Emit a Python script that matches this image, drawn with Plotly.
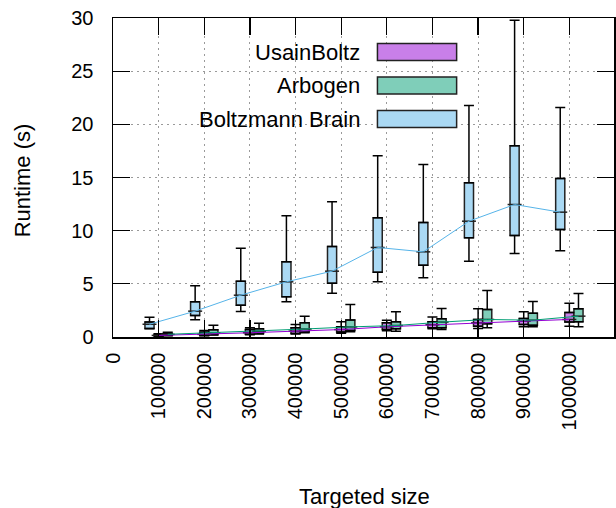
import plotly.graph_objects as go

# ---------------- data ----------------
sizes = [100000, 200000, 300000, 400000, 500000, 600000, 700000, 800000, 900000, 1000000]
size_labels = ["0"] + [str(s) for s in sizes]

usain_min = [0.08, 0.12, 0.20, 0.28, 0.35, 0.58, 0.77, 0.80, 0.96, 1.00]
usain_q1 = [0.10, 0.15, 0.27, 0.33, 0.46, 0.71, 0.87, 1.02, 1.18, 1.40]
usain_med = [0.15, 0.25, 0.40, 0.55, 0.70, 0.96, 1.15, 1.33, 1.49, 1.65]
usain_q3 = [0.25, 0.45, 0.71, 0.86, 0.96, 1.33, 1.43, 1.65, 1.74, 2.30]
usain_max = [0.30, 0.62, 0.86, 1.18, 1.43, 1.58, 1.87, 2.65, 2.37, 3.18]

arbo_min = [0.12, 0.18, 0.28, 0.40, 0.50, 0.55, 0.71, 0.87, 0.96, 0.96]
arbo_q1 = [0.15, 0.20, 0.33, 0.46, 0.60, 0.77, 0.87, 1.24, 1.11, 1.43]
arbo_med = [0.25, 0.40, 0.55, 0.75, 0.95, 1.08, 1.40, 1.65, 1.58, 1.96]
arbo_q3 = [0.33, 0.68, 0.77, 1.33, 1.60, 1.43, 1.71, 2.59, 2.24, 2.65]
arbo_max = [0.45, 1.10, 1.30, 1.96, 3.05, 2.37, 2.68, 4.38, 3.33, 4.09]

bb_min = [0.78, 1.62, 2.40, 3.31, 4.12, 5.19, 5.57, 7.13, 7.85, 8.11]
bb_q1 = [0.80, 2.02, 2.99, 3.78, 5.06, 6.09, 6.75, 9.33, 9.55, 10.11]
bb_med = [1.20, 2.43, 3.93, 5.19, 6.19, 8.42, 8.01, 10.89, 12.46, 11.74]
bb_q3 = [1.41, 3.31, 5.25, 7.07, 8.51, 11.21, 10.77, 14.50, 17.98, 14.91]
bb_max = [1.86, 4.81, 8.35, 11.40, 12.71, 17.04, 16.22, 21.77, 29.80, 21.58]

series_names = ["UsainBoltz", "Arbogen", "Boltzmann Brain"]
y_ticks = [0, 5, 10, 15, 20, 25, 30]

# ---------------- style ----------------
FONT = "Liberation Sans, Arial, sans-serif"
W, H = 616, 508
ML, MR, MT, MB = 113, 0, 18, 171
BOX_W = 20000
series = [
    dict(name=series_names[0], off=0, line="#9400D3", fill="#C97FE9",
         mn=usain_min, q1=usain_q1, md=usain_med, q3=usain_q3, mx=usain_max),
    dict(name=series_names[1], off=20000, line="#009E73", fill="#7FCEB9",
         mn=arbo_min, q1=arbo_q1, md=arbo_med, q3=arbo_q3, mx=arbo_max),
    dict(name=series_names[2], off=-20000, line="#56B4E9", fill="#AAD9F4",
         mn=bb_min, q1=bb_q1, md=bb_med, q3=bb_q3, mx=bb_max),
]

fig = go.Figure()

# boxes
for s in series:
    xs = [v + s["off"] for v in sizes]
    fig.add_trace(go.Bar(
        x=xs, base=s["q1"], y=[b - a for a, b in zip(s["q1"], s["q3"])],
        width=BOX_W, marker=dict(color=s["fill"], line=dict(color="#222222", width=1.5)),
        showlegend=False, hoverinfo="skip"))

# whiskers
for s in series:
    xs = [v + s["off"] for v in sizes]
    n = len(xs)
    fig.add_trace(go.Scatter(
        x=xs, y=s["q3"], mode="markers", marker=dict(size=1, color="rgba(0,0,0,0)"),
        error_y=dict(type="data", symmetric=False,
                     array=[b - a for a, b in zip(s["q3"], s["mx"])], arrayminus=[0] * n,
                     color="black", thickness=1.5, width=5),
        showlegend=False, hoverinfo="skip"))
    fig.add_trace(go.Scatter(
        x=xs, y=s["q1"], mode="markers", marker=dict(size=1, color="rgba(0,0,0,0)"),
        error_y=dict(type="data", symmetric=False,
                     array=[0] * n, arrayminus=[a - b for a, b in zip(s["q1"], s["mn"])],
                     color="black", thickness=1.5, width=5),
        showlegend=False, hoverinfo="skip"))

# median ticks
for s in series:
    xs = [v + s["off"] for v in sizes]
    fig.add_trace(go.Scatter(
        x=xs, y=s["md"], mode="markers",
        marker=dict(symbol="line-ew", size=10, line=dict(color="#222222", width=1.5)),
        showlegend=False, hoverinfo="skip"))

# median lines
for s in series:
    xs = [v + s["off"] for v in sizes]
    fig.add_trace(go.Scatter(
        x=xs, y=s["md"], mode="lines", line=dict(color=s["line"], width=1),
        showlegend=False, hoverinfo="skip"))

PW = W - ML - MR
PH = H - MT - MB


def px_x(p):
    return (p - ML) / PW


def px_y(p):
    return (H - MB - p) / PH


shapes = []
annotations = []
# opaque key background hiding grid
shapes.append(dict(type="rect", xref="paper", yref="paper", layer="between",
                   x0=px_x(114), x1=px_x(466), y0=px_y(136), y1=px_y(19),
                   fillcolor="white", line=dict(width=0)))
key_rows = [52, 85.5, 119]
for s, yc in zip(series, key_rows):
    shapes.append(dict(type="rect", xref="paper", yref="paper", layer="above",
                       x0=px_x(378.5), x1=px_x(458), y0=px_y(yc + 8.5), y1=px_y(yc - 8.5),
                       fillcolor=s["fill"], line=dict(color="#222222", width=1.5)))
    annotations.append(dict(xref="paper", yref="paper", x=px_x(363), y=px_y(yc),
                            xanchor="right", yanchor="middle", showarrow=False,
                            text=s["name"], font=dict(family=FONT, size=22, color="black")))

annotations.append(dict(xref="paper", yref="paper", x=px_x(366), y=px_y(496),
                        xanchor="center", yanchor="middle", showarrow=False,
                        text="Targeted size", font=dict(family=FONT, size=22, color="black")))
annotations.append(dict(xref="paper", yref="paper", x=px_x(22), y=px_y(180),
                        xanchor="center", yanchor="middle", showarrow=False, textangle=-90,
                        text="Runtime (s)", font=dict(family=FONT, size=22, color="black")))

axis_common = dict(
    showline=True, linecolor="black", linewidth=1.5, mirror="ticks",
    ticks="inside", ticklen=17, tickwidth=1.2, tickcolor="black",
    showgrid=True, gridcolor="#9a9a9a", gridwidth=1, griddash="2px,4px",
    zeroline=False, ticklabeloverflow="allow",
    tickfont=dict(family=FONT, size=20, color="black"),
)

fig.update_layout(
    width=W, height=H,
    margin=dict(l=ML, r=MR, t=MT, b=MB),
    paper_bgcolor="white", plot_bgcolor="white",
    barmode="overlay", showlegend=False,
    xaxis=dict(range=[0, 1100000 * (W - ML - MR) / 504], tickvals=[0] + sizes,
               ticktext=size_labels, tickangle=-90, ticklabelstandoff=6, **axis_common),
    yaxis=dict(range=[0, 30], tickvals=y_ticks, ticktext=[str(v) for v in y_ticks],
               ticklabelstandoff=14, **axis_common),
    shapes=shapes, annotations=annotations,
)

fig.write_html("out.html",
               config={"displayModeBar": False, "staticPlot": True},
               post_script="document.body.style.margin='0';document.body.style.overflow='hidden';")
